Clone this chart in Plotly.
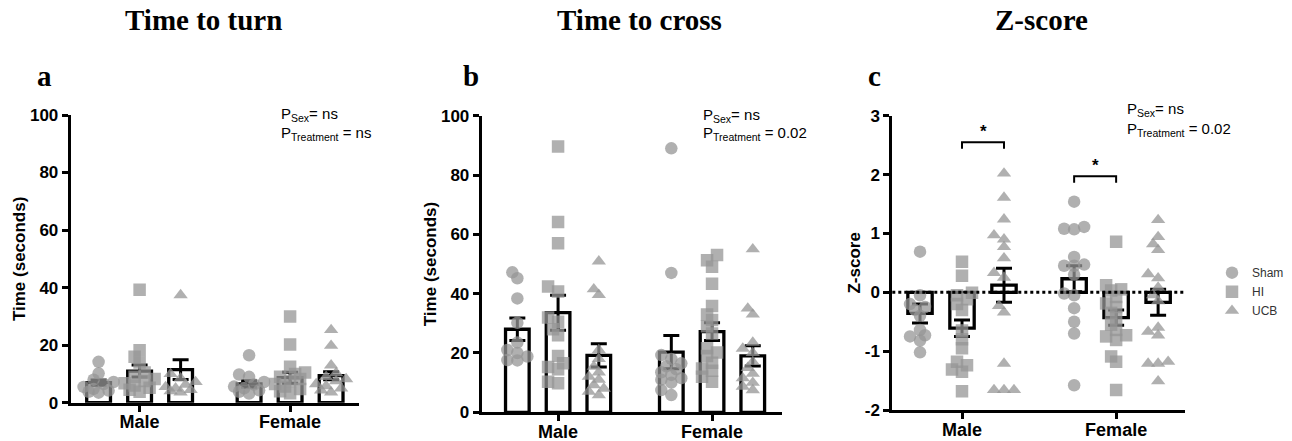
import plotly.graph_objects as go

W, H = 1292, 441

groups = ["Male", "Female"]
treatments = ["Sham", "HI", "UCB"]
symbols = ["circle", "square", "triangle-up"]

# ---- Panel a: Time to turn (seconds) ----
turn_male_sham = [14.2, 10.2, 8.0, 7.2, 6.5, 5.5, 4.8, 4.2, 3.8, 3.5]
turn_male_hi = [39.3, 18.2, 16.0, 14.0, 10.5, 9.0, 8.2, 7.5, 6.8, 6.0, 5.2, 4.5, 3.8]
turn_male_ucb = [37.4, 10.0, 8.5, 7.2, 6.3, 5.5, 5.0, 4.5, 4.0, 3.6]
turn_female_sham = [16.5, 9.8, 9.0, 7.2, 6.3, 5.6, 5.0, 4.3, 3.8, 3.2]
turn_female_hi = [30.0, 20.2, 12.5, 10.5, 10.0, 9.0, 8.2, 7.5, 6.5, 5.6, 4.8, 4.0, 3.3]
turn_female_ucb = [25.3, 19.8, 13.0, 10.3, 9.0, 8.2, 7.5, 6.5, 5.8, 5.0, 4.3, 3.6]
turn_mean_male = [7.0, 11.0, 11.5]
turn_sem_male = [0.9, 2.1, 3.4]
turn_mean_female = [6.5, 8.7, 9.4]
turn_sem_female = [1.1, 1.9, 1.4]

# ---- Panel b: Time to cross (seconds) ----
cross_male_sham = [47.2, 45.2, 38.4, 30.2, 23.5, 21.0, 20.0, 18.8, 17.6, 17.5]
cross_male_hi = [89.6, 64.2, 57.0, 42.4, 40.7, 32.0, 30.5, 28.0, 26.0, 19.0, 16.5, 15.3, 14.5, 10.3, 9.8]
cross_male_ucb = [50.9, 41.5, 39.6, 21.0, 18.0, 15.4, 13.5, 12.0, 11.0, 9.2, 8.0, 7.0, 5.8]
cross_female_sham = [89.0, 47.0, 19.3, 18.0, 16.5, 15.5, 14.5, 13.5, 12.6, 11.5, 11.0, 10.0, 7.5, 5.8]
cross_female_hi = [53.0, 51.3, 49.1, 43.3, 35.8, 33.0, 31.1, 29.0, 26.6, 21.6, 20.2, 19.0, 16.7, 14.8, 14.0, 12.0, 10.3]
cross_female_ucb = [55.0, 35.0, 33.0, 23.5, 21.5, 20.0, 17.0, 15.0, 13.0, 11.5, 10.0, 8.7, 7.5]
cross_mean_male = [28.0, 33.6, 19.2]
cross_sem_male = [3.8, 5.9, 3.9]
cross_mean_female = [20.3, 27.2, 19.0]
cross_sem_female = [5.6, 3.0, 3.4]

# ---- Panel c: Z-score ----
z_male_sham = [0.69, -0.05, -0.2, -0.25, -0.3, -0.4, -0.64, -0.73, -0.75, -0.82, -1.02]
z_male_hi = [0.52, 0.28, -0.01, -0.05, -0.12, -0.2, -0.3, -0.65, -0.8, -0.95, -1.18, -1.24, -1.31, -1.35, -1.68]
z_male_ucb = [2.02, 1.61, 1.24, 0.97, 0.9, 0.77, 0.58, 0.33, 0.25, -0.23, -0.34, -1.21, -1.66, -1.66, -1.66]
z_female_sham = [1.54, 1.11, 1.07, 1.08, 0.6, 0.47, 0.45, 0.45, 0.3, -0.02, -0.05, -0.27, -0.5, -0.7, -1.58]
z_female_hi = [0.86, 0.12, 0.05, 0.03, -0.08, -0.19, -0.25, -0.35, -0.44, -0.55, -0.64, -0.73, -0.75, -0.81, -1.09, -1.18, -1.66]
z_female_ucb = [1.23, 0.94, 0.82, 0.72, 0.31, 0.24, 0.08, -0.05, -0.15, -0.6, -0.67, -0.73, -1.18, -1.21, -1.21, -1.51]
z_mean_male = [-0.36, -0.61, 0.12]
z_sem_male = [0.16, 0.14, 0.29]
z_mean_female = [0.23, -0.43, -0.17]
z_sem_female = [0.22, 0.13, 0.22]
# significance brackets: (group, treatment i, treatment j, height)
z_sig = [("Male", 1, 2, 2.55), ("Female", 0, 1, 1.97)]

panel_titles = ["Time to turn", "Time to cross", "Z-score"]
panel_letters = ["a", "b", "c"]
y_titles = ["Time (seconds)", "Time (seconds)", "Z-score"]
p_sex = ["ns", "ns", "ns"]
p_treat = ["ns", "0.02", "0.02"]

panels = [
    dict(points=[[turn_male_sham, turn_male_hi, turn_male_ucb],
                 [turn_female_sham, turn_female_hi, turn_female_ucb]],
         means=[turn_mean_male, turn_mean_female], sems=[turn_sem_male, turn_sem_female],
         yr=[0, 100], yt=[0, 20, 40, 60, 80, 100],
         xpx=[70.7, 359.0], ypx=[115.0, 402.7], gap=3.67, xr=[-1.68, 5.35],
         title_xy=(203, 20), letter_xy=(44, 76), p_xy=(279.3, 114, 133.3)),
    dict(points=[[cross_male_sham, cross_male_hi, cross_male_ucb],
                 [cross_female_sham, cross_female_hi, cross_female_ucb]],
         means=[cross_mean_male, cross_mean_female], sems=[cross_sem_male, cross_sem_female],
         yr=[0, 100], yt=[0, 20, 40, 60, 80, 100],
         xpx=[481.7, 781.7], ypx=[115.7, 412.3], gap=3.78, xr=[-1.875, 5.49],
         title_xy=(639, 20), letter_xy=(471, 76), p_xy=(701, 115, 133.5)),
    dict(points=[[z_male_sham, z_male_hi, z_male_ucb],
                 [z_female_sham, z_female_hi, z_female_ucb]],
         means=[z_mean_male, z_mean_female], sems=[z_sem_male, z_sem_female],
         yr=[-2, 3], yt=[-2, -1, 0, 1, 2, 3],
         xpx=[892.3, 1185.0], ypx=[115.7, 410.0], gap=3.67, xr=[-1.66, 5.31],
         title_xy=(1041, 20), letter_xy=(874, 76), p_xy=(1125, 109.3, 129.3)),
]

PT_COLOR = "rgba(150,150,150,0.75)"
SANS = "Liberation Sans, Arial, sans-serif"
SERIF = "Liberation Serif, Times New Roman, serif"


def swarm(values, center, sx, sy, diam=12.0, step=5.0, kmax=3):
    """Deterministic horizontal spreading of overlapping points (pixel based)."""
    order = sorted(range(len(values)), key=lambda i: values[i])
    placed = []
    xs = [center] * len(values)
    cands = [0]
    for k in range(1, kmax + 1):
        cands += [-k, k]
    for i in order:
        ypx = values[i] * sy
        best, bestd = 0, -1.0
        for k in cands:
            xp = k * step
            d = min([((xp - px) ** 2 + (ypx - py) ** 2) ** 0.5 for px, py in placed], default=1e9)
            if d >= diam * 0.6:
                best = k
                break
            if d > bestd:
                bestd, best = d, k
        placed.append((best * step, ypx))
        xs[i] = center + best * step / sx
    return xs


fig = go.Figure()
annotations = []
shapes = []
layout_axes = {}

for p_i, P in enumerate(panels):
    n = p_i + 1
    xa = "x" if n == 1 else f"x{n}"
    ya = "y" if n == 1 else f"y{n}"
    xkey = "xaxis" if n == 1 else f"xaxis{n}"
    ykey = "yaxis" if n == 1 else f"yaxis{n}"
    sx = (P["xpx"][1] - P["xpx"][0]) / (P["xr"][1] - P["xr"][0])
    sy = (P["ypx"][1] - P["ypx"][0]) / (P["yr"][1] - P["yr"][0])

    centers = [g * P["gap"] for g in range(len(groups))]
    bar_x, bar_y, bar_e = [], [], []
    for g, c in enumerate(centers):
        for t in range(len(treatments)):
            bar_x.append(c + (t - 1))
            bar_y.append(P["means"][g][t])
            bar_e.append(P["sems"][g][t])

    fig.add_trace(go.Bar(
        x=bar_x, y=bar_y, width=0.58, xaxis=xa, yaxis=ya,
        marker=dict(color="white", line=dict(color="black", width=3.3)),
        error_y=dict(type="data", array=bar_e, color="black", thickness=3, width=8),
        showlegend=False, hoverinfo="skip"))

    for t, tname in enumerate(treatments):
        xs_all, ys_all = [], []
        for g, c in enumerate(centers):
            vals = P["points"][g][t]
            xs_all += swarm(vals, c + (t - 1), sx, sy)
            ys_all += vals
        fig.add_trace(go.Scatter(
            x=xs_all, y=ys_all, mode="markers", xaxis=xa, yaxis=ya,
            name=tname, showlegend=(n == 3),
            marker=dict(symbol=symbols[t], size=12.5, color=PT_COLOR, line=dict(width=0))))

    ytext = [str(v) for v in P["yt"]]
    layout_axes[xkey] = dict(
        domain=[P["xpx"][0] / W, P["xpx"][1] / W], range=P["xr"], anchor=ya,
        tickvals=centers, ticktext=groups, showline=True, linecolor="black", linewidth=3,
        ticks="outside", ticklen=6, tickwidth=3, tickcolor="black", ticklabelstandoff=-5,
        tickfont=dict(family=SANS, size=18, color="black", weight="bold"),
        showgrid=False, zeroline=False, automargin=False, fixedrange=True)
    layout_axes[ykey] = dict(
        domain=[1 - P["ypx"][1] / H, 1 - P["ypx"][0] / H], range=P["yr"], anchor=xa,
        tickvals=P["yt"], ticktext=ytext, showline=True, linecolor="black", linewidth=3,
        ticks="outside", ticklen=6, tickwidth=3, tickcolor="black",
        tickfont=dict(family=SANS, size=17, color="black", weight="bold"),
        title=dict(text=y_titles[p_i], font=dict(family=SANS, size=17, color="black", weight="bold"),
                   standoff=0),
        showgrid=False, zeroline=False, automargin=False, fixedrange=True)

    tx, ty = P["title_xy"]
    annotations.append(dict(x=tx / W, y=1 - ty / H, xref="paper", yref="paper",
                            text=panel_titles[p_i], showarrow=False, xanchor="center", yanchor="middle",
                            font=dict(family=SERIF, size=29, color="black", weight="bold")))
    lx, ly = P["letter_xy"]
    annotations.append(dict(x=lx / W, y=1 - ly / H, xref="paper", yref="paper",
                            text=panel_letters[p_i], showarrow=False, xanchor="center", yanchor="middle",
                            font=dict(family=SERIF, size=29, color="black", weight="bold")))
    px_, py1, py2 = P["p_xy"]
    annotations.append(dict(x=px_ / W, y=1 - py1 / H, xref="paper", yref="paper",
                            text=f"P<sub>Sex</sub>= {p_sex[p_i]}", showarrow=False,
                            xanchor="left", yanchor="middle",
                            font=dict(family=SANS, size=15, color="black")))
    annotations.append(dict(x=px_ / W, y=1 - py2 / H, xref="paper", yref="paper",
                            text=f"P<sub>Treatment</sub> = {p_treat[p_i]}", showarrow=False,
                            xanchor="left", yanchor="middle",
                            font=dict(family=SANS, size=15, color="black")))

    if n == 3:
        shapes.append(dict(type="line", xref="x3 domain", yref="y3", x0=0, x1=1, y0=0, y1=0,
                           line=dict(color="black", width=3, dash="dot"), layer="above"))
        for gname, ti, tj, hgt in z_sig:
            c = centers[groups.index(gname)]
            x0, x1 = c + (ti - 1), c + (tj - 1)
            drop = 0.11
            shapes.append(dict(type="path", xref="x3", yref="y3",
                               path=f"M {x0},{hgt - drop} L {x0},{hgt} L {x1},{hgt} L {x1},{hgt - drop}",
                               line=dict(color="black", width=2)))
            annotations.append(dict(x=(x0 + x1) / 2, y=hgt, xref="x3", yref="y3", yshift=11,
                                    text="*", showarrow=False, xanchor="center", yanchor="middle",
                                    font=dict(family=SANS, size=17, color="black", weight="bold")))

fig.update_layout(
    width=W, height=H, margin=dict(l=0, r=0, t=0, b=0),
    paper_bgcolor="white", plot_bgcolor="white",
    annotations=annotations, shapes=shapes,
    legend=dict(x=1212 / W, xanchor="left", y=1 - 291.7 / H, yanchor="middle",
                font=dict(family=SANS, size=12, color="#333333"), bgcolor="rgba(0,0,0,0)",
                tracegroupgap=0),
    **layout_axes)

fig.write_html("out.html", config={"displayModeBar": False},
               post_script="document.body.style.margin='0';")
